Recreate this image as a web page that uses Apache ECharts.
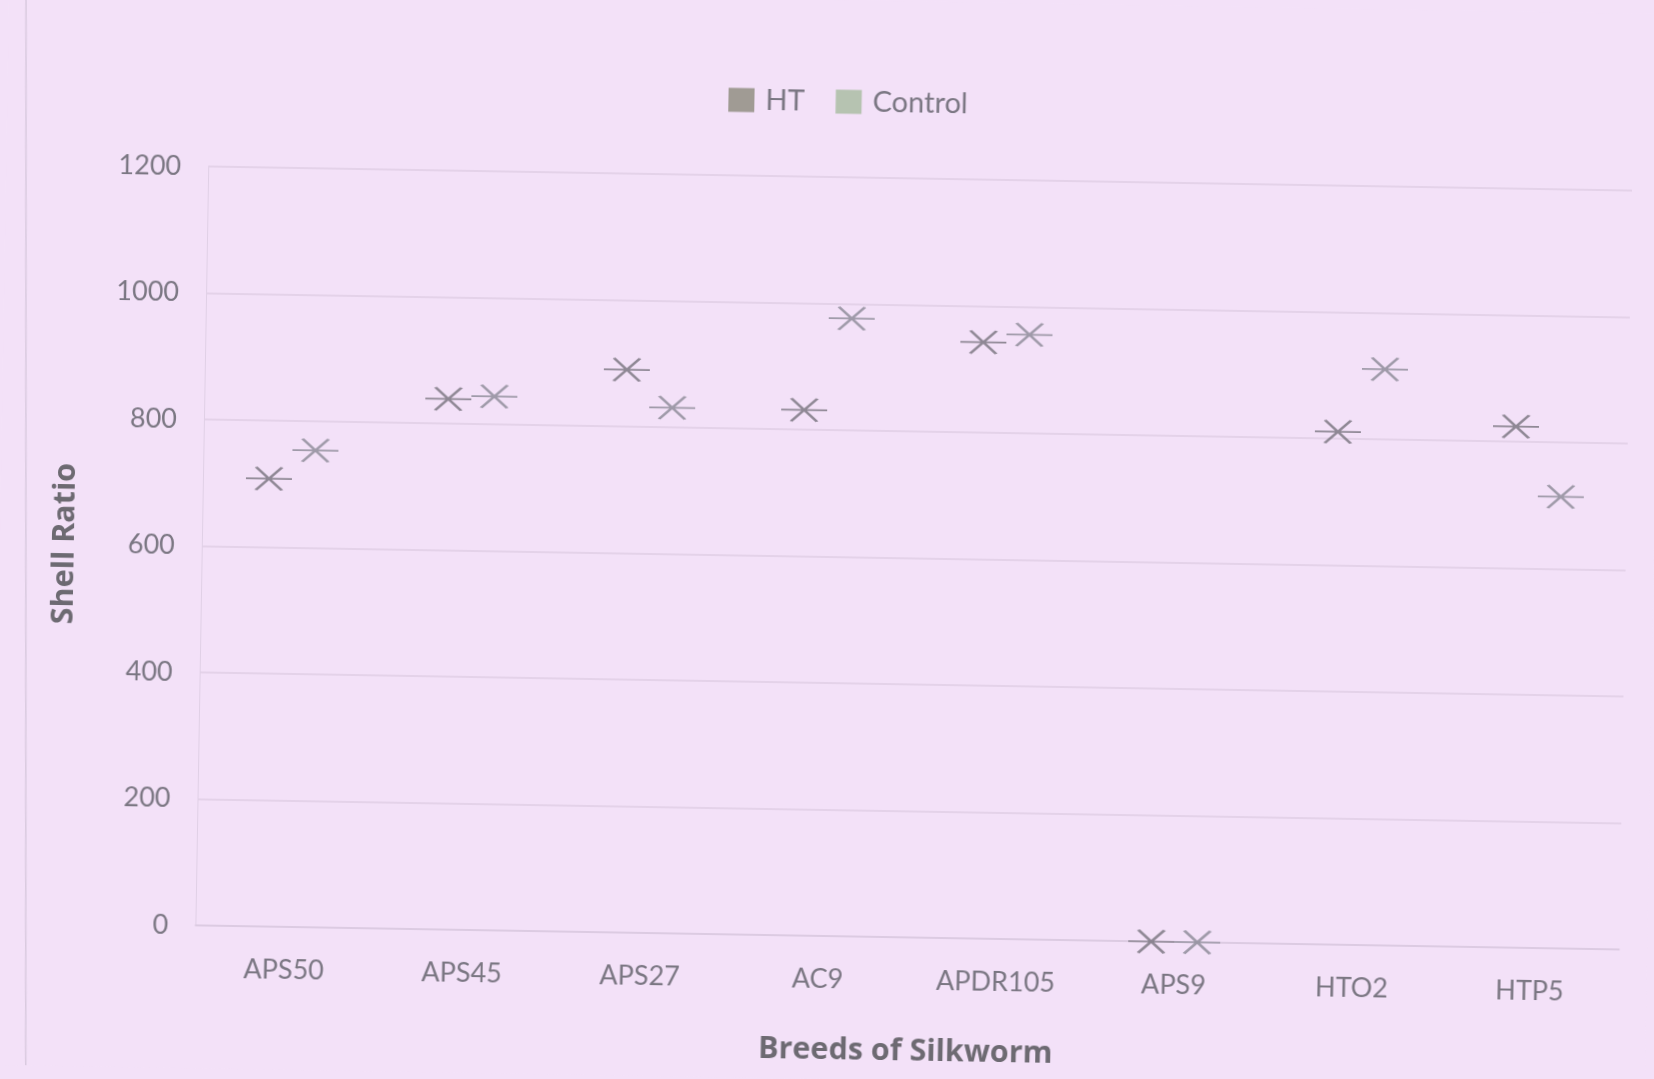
<!DOCTYPE html>
<html>
<head>
<meta charset="utf-8">
<title>Shell Ratio by Breed</title>
<script src="https://cdn.jsdelivr.net/npm/echarts@6/dist/echarts.min.js"></script>
<style>
  html, body { margin: 0; padding: 0; background: #f3e1f8; overflow: hidden; }
  #chart { width: 1654px; height: 1079px; transform: rotate(0.97deg); transform-origin: 50% 50%; }
</style>
</head>
<body>
<div id="chart"></div>
<script>
// Silkworm breeds on the category axis
const breeds = ['APS50', 'APS45', 'APS27', 'AC9', 'APDR105', 'APS9', 'HTO2', 'HTP5'];
// Shell ratio per breed
const htValues = [708, 839, 890, 831, 943, 0, 811, 824];
const controlValues = [754, 844, 831, 977, 956, 0, 911, 714];
// Value axis ticks
const yTicks = [0, 200, 400, 600, 800, 1000, 1200];

const FONT = 'Lato, "Open Sans", sans-serif';
const TITLE_FONT = '"Open Sans", Lato, sans-serif';
// asterisk: horizontal stroke crossed by an X
const ASTERISK = 'path://M0,11.5L46,11.5M10,0L36,23M36,0L10,23';

const chart = echarts.init(document.getElementById('chart'), null, { renderer: 'canvas' });

function starSeries(name, values, offsetX, color) {
  return {
    name: name,
    type: 'scatter',
    data: values,
    symbol: ASTERISK,
    symbolSize: [46, 23],
    symbolOffset: [offsetX, 0],
    itemStyle: { color: 'rgba(0,0,0,0)', borderColor: color, borderWidth: 2.4 },
    emphasis: { disabled: true },
    z: 5
  };
}

chart.setOption({
  animation: false,
  backgroundColor: '#f3e1f8',
  textStyle: { fontFamily: FONT },
  graphic: [{
    // left edge of the chart frame
    type: 'line',
    shape: { x1: 17, y1: 13, x2: 35, y2: 1093 },
    style: { stroke: '#d9cadf', lineWidth: 1.5 },
    silent: true
  }],
  legend: {
    left: 721,
    top: 87,
    padding: 0,
    itemWidth: 26,
    itemHeight: 24,
    itemGap: 31,
    textStyle: { fontFamily: FONT, fontSize: 29, color: '#7b7783', padding: [0, 0, 0, 6] },
    data: [
      { name: 'HT', icon: 'rect', itemStyle: { color: '#8b897b', borderWidth: 0 } },
      { name: 'Control', icon: 'rect', itemStyle: { color: '#a6bb9f', borderWidth: 0 } }
    ]
  },
  grid: { left: 202, top: 177, right: 28, bottom: 143, containLabel: false },
  xAxis: {
    type: 'category',
    data: breeds,
    axisTick: { show: false },
    axisLine: { lineStyle: { color: '#d9c9df', width: 1.5 } },
    axisLabel: { margin: 30, fontFamily: FONT, fontSize: 27, color: '#7b7783' },
    name: 'Breeds of Silkworm',
    nameLocation: 'middle',
    nameGap: 99,
    nameTextStyle: { fontFamily: TITLE_FONT, fontSize: 30.5, fontWeight: 'bold', color: '#6d6a72' }
  },
  yAxis: {
    type: 'value',
    min: yTicks[0],
    max: yTicks[yTicks.length - 1],
    interval: yTicks[1] - yTicks[0],
    axisLine: { show: true, lineStyle: { color: '#e0d0e6', width: 1 } },
    axisTick: { show: false },
    splitLine: { lineStyle: { color: '#dfcde5', width: 1.5 } },
    axisLabel: { margin: 27, fontFamily: FONT, fontSize: 27, color: '#7b7783', formatter: v => String(v) },
    name: 'Shell Ratio',
    nameLocation: 'middle',
    nameRotate: 90,
    nameGap: 121,
    nameTextStyle: { fontFamily: TITLE_FONT, fontSize: 30.5, fontWeight: 'bold', color: '#6d6a72' }
  },
  series: [
    starSeries('HT', htValues, -23, '#76727c'),
    starSeries('Control', controlValues, 23, '#8a8895')
  ]
});
</script>
</body>
</html>
